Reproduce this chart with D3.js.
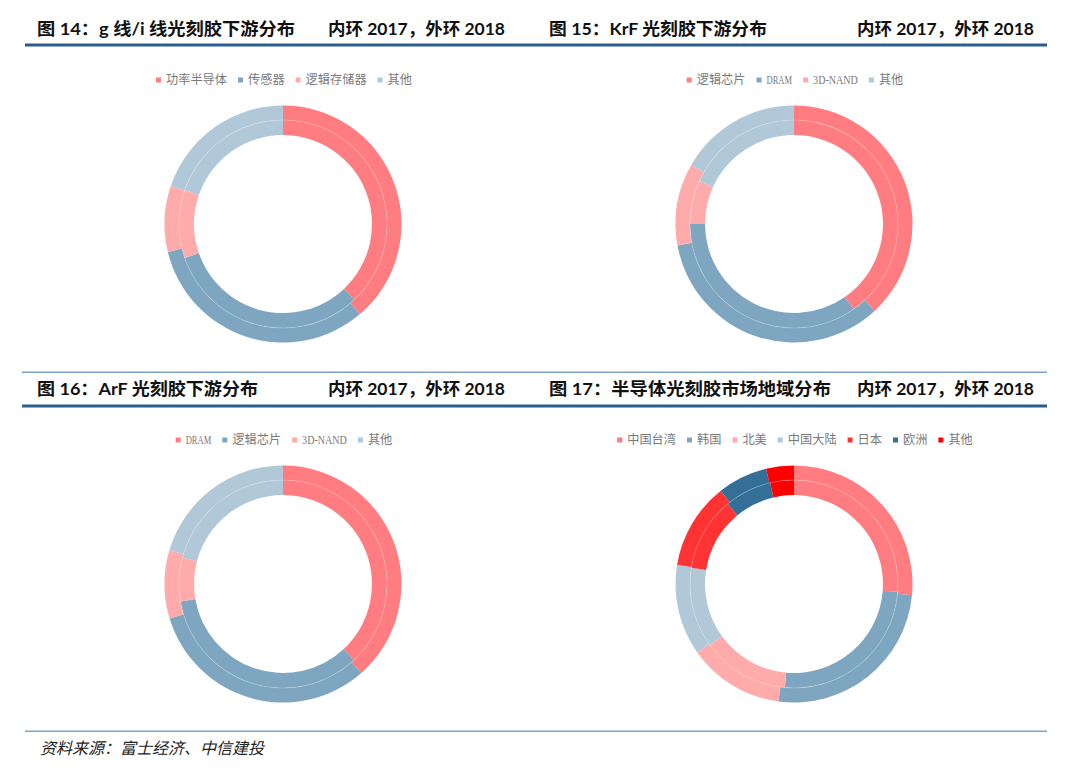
<!DOCTYPE html>
<html><head><meta charset="utf-8">
<script src="https://cdn.jsdelivr.net/npm/d3@7"></script>
<style>body{margin:0;background:#fff}</style>
</head><body>
<svg id="c" width="1080" height="769"></svg>
<script>
// ---- data ----
const titles = ["图 14：g 线/i 线光刻胶下游分布", "图 15：KrF 光刻胶下游分布", "图 16：ArF 光刻胶下游分布", "图 17：半导体光刻胶市场地域分布"];
const ringNote = "内环 2017，外环 2018";
const source = "资料来源：富士经济、中信建投";

const cats14 = ["功率半导体", "传感器", "逻辑存储器", "其他"];
const inner14 = [38.0, 31.7, 10.6, 19.7];   // 2017
const outer14 = [38.8, 32.4, 9.0, 19.8];    // 2018

const cats15 = ["逻辑芯片", "DRAM", "3D-NAND", "其他"];
const inner15 = [40.3, 34.7, 6.8, 18.2];
const outer15 = [38.1, 34.0, 11.2, 16.7];

const cats16 = ["DRAM", "逻辑芯片", "3D-NAND", "其他"];
const inner16 = [38.1, 34.2, 6.8, 20.9];
const outer16 = [38.5, 31.8, 9.3, 20.4];

const cats17 = ["中国台湾", "韩国", "北美", "中国大陆", "日本", "欧洲", "其他"];
const inner17 = [26.2, 25.2, 13.6, 12.5, 11.5, 7.3, 3.7];
const outer17 = [26.5, 25.6, 13.1, 12.4, 11.8, 6.8, 3.8];

const palette = ["#FF7C80", "#7FA6C0", "#FFABAB", "#B0C8D8", "#FF3333", "#336F97", "#FF0000"];

// ---- drawing ----
const svg = d3.select("#c");
const titleFont = "Lato, 'Noto Sans CJK SC', sans-serif";
const legendFont = "'Liberation Serif', 'Noto Sans CJK SC', serif";

// rules
svg.append("rect").attr("x", 25).attr("y", 43.5).attr("width", 1022).attr("height", 3).attr("fill", "#2B5E8E");
svg.append("rect").attr("x", 22).attr("y", 371.5).attr("width", 1025).attr("height", 1.5).attr("fill", "#7FA3C6");
svg.append("rect").attr("x", 22).attr("y", 404.5).attr("width", 1025).attr("height", 3).attr("fill", "#2B5E8E");
svg.append("rect").attr("x", 25).attr("y", 730.5).attr("width", 1022).attr("height", 1.5).attr("fill", "#7FA3C6");

const panels = [
  {title: titles[0], cats: cats14, inner: inner14, outer: outer14, tx: 37, tw: 258, nx: 505, ty: 35, cx: 283, cy: 224, ly: 80},
  {title: titles[1], cats: cats15, inner: inner15, outer: outer15, tx: 549, tw: 218, nx: 1034, ty: 35, cx: 794, cy: 224, ly: 80},
  {title: titles[2], cats: cats16, inner: inner16, outer: outer16, tx: 37, tw: 221, nx: 505, ty: 395, cx: 283, cy: 584, ly: 440},
  {title: titles[3], cats: cats17, inner: inner17, outer: outer17, tx: 549, tw: 282, nx: 1034, ty: 395, cx: 794, cy: 584, ly: 440}
];

const pie = d3.pie().sort(null).value(d => d);
const arcIn = d3.arc().innerRadius(89).outerRadius(104);
const arcOut = d3.arc().innerRadius(104).outerRadius(118.5);
const color = d3.scaleOrdinal().range(palette);

function targetWidth(s) {
  let w = 0;
  for (const ch of s) w += /[\u2E80-\uFFEF]/.test(ch) ? 12.2 : 6.4;
  return w;
}

panels.forEach(p => {
  svg.append("text").attr("x", p.tx).attr("y", p.ty)
    .attr("font-family", titleFont).attr("font-weight", "bold").attr("font-size", 17.5)
    .attr("textLength", p.tw).attr("lengthAdjust", "spacingAndGlyphs")
    .attr("fill", "#111").text(p.title);
  svg.append("text").attr("x", p.nx - 177).attr("y", p.ty)
    .attr("font-family", titleFont).attr("font-weight", "bold").attr("font-size", 17.5)
    .attr("textLength", 177).attr("lengthAdjust", "spacingAndGlyphs")
    .attr("fill", "#111").text(ringNote);

  const c = color.copy().domain(p.cats);
  const g = svg.append("g").attr("transform", `translate(${p.cx},${p.cy})`);
  g.selectAll("path.in").data(pie(p.inner)).join("path").attr("class", "in")
    .attr("d", arcIn).attr("fill", (d, i) => c(p.cats[i]));
  g.selectAll("path.out").data(pie(p.outer)).join("path").attr("class", "out")
    .attr("d", arcOut).attr("fill", (d, i) => c(p.cats[i]));
  g.append("circle").attr("r", 104).attr("fill", "none")
    .attr("stroke", "#fff").attr("stroke-opacity", 0.2).attr("stroke-width", 1);

  // legend
  const lg = svg.append("g");
  let x = 0;
  const items = p.cats.map(cat => {
    const w = targetWidth(cat);
    const it = {cat, x, w};
    x += 5 + 5 + w + 11;
    return it;
  });
  const total = x - 11;
  const x0 = p.cx + 1 - total / 2;
  items.forEach(it => {
    lg.append("rect").attr("x", x0 + it.x).attr("y", p.ly - 2.5).attr("width", 5).attr("height", 5)
      .attr("fill", c(it.cat));
    lg.append("text").attr("x", x0 + it.x + 10).attr("y", p.ly + 4.3)
      .attr("font-family", legendFont).attr("font-size", 12.5).attr("fill", "#7A7A7A")
      .attr("textLength", it.w).attr("lengthAdjust", "spacingAndGlyphs").text(it.cat);
  });
});

svg.append("text").attr("x", 40).attr("y", 754)
  .attr("font-family", "'Noto Sans CJK SC', sans-serif").attr("font-style", "italic")
  .attr("font-size", 16).attr("fill", "#222").text(source);
</script>
</body></html>
